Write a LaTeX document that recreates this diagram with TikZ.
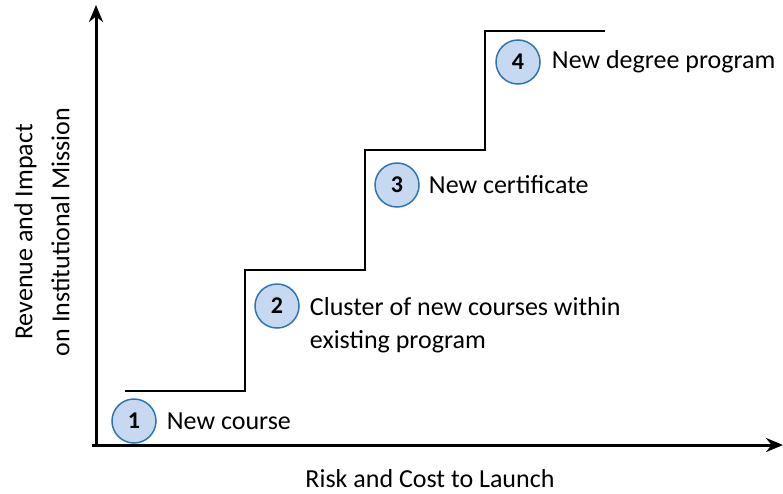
\documentclass[tikz,border=0pt]{standalone}
\definecolor{numFill}{RGB}{198,217,241}
\definecolor{numEdge}{RGB}{46,117,182}
\usepackage{fontspec}
\setmainfont{Carlito}
\usepackage{tikz}
\usetikzlibrary{arrows.meta,positioning}

\begin{document}
\begin{tikzpicture}[x=1pt,y=-1pt,
        num/.style={circle, draw=numEdge, line width=1.5pt, fill=numFill,
          minimum size=44pt, inner sep=0pt, font=\fontsize{24}{28}\selectfont\bfseries},
        lbl/.style={font=\fontsize{26}{33}\selectfont, align=left, inner sep=0pt},
        axis/.style={line width=3pt, -{Stealth[length=17pt,width=14pt]}},
        stair/.style={line width=1.7pt},
        >=Stealth
      ]
        \useasboundingbox (0,0) rectangle (783,493);
        % axes
        \coordinate (origin) at (96,446);
        \coordinate (ytop) at (96,5);
        \coordinate (xleft) at (92,445);
        \coordinate (xend) at (783,445);
        \draw[axis] (origin) -- (ytop);
        \draw[axis] (xleft) -- (xend);
        \node[font=\fontsize{26}{33}\selectfont, inner sep=0pt] (xlab) at (430,479) {Risk and Cost to Launch};
        \node[font=\fontsize{26}{37}\selectfont, align=center, rotate=90, inner sep=0pt] (ylab) at (42,232)
          {Revenue and Impact\\on Institutional Mission};
        % staircase
        \coordinate (s0) at (125,391);
        \coordinate (s1) at (245,391);
        \coordinate (s2) at (245,270);
        \coordinate (s3) at (365,270);
        \coordinate (s4) at (365,150);
        \coordinate (s5) at (485,150);
        \coordinate (s6) at (485,31);
        \coordinate (s7) at (605,31);
        \draw[stair] (s0) -- (s1) -- (s2) -- (s3) -- (s4) -- (s5) -- (s6) -- (s7);
        % numbered steps
        \node[num] (c1) at (134,421) {1};
        \node[num] (c2) at (277,306) {2};
        \node[num] (c3) at (397,185) {3};
        \node[num] (c4) at (518,62) {4};
        \node[lbl, anchor=west, right=10pt of c1] (t1) {New course};
        \node[lbl, anchor=north west] (t2) at ([xshift=10pt,yshift=9pt]c2.east)
          {Cluster of new courses within\\existing program};
        \node[lbl, anchor=west, right=9pt of c3] (t3) {New certificate};
        \node[lbl, anchor=west, right=11pt of c4] (t4) {New degree program};
      \end{tikzpicture}
\end{document}
